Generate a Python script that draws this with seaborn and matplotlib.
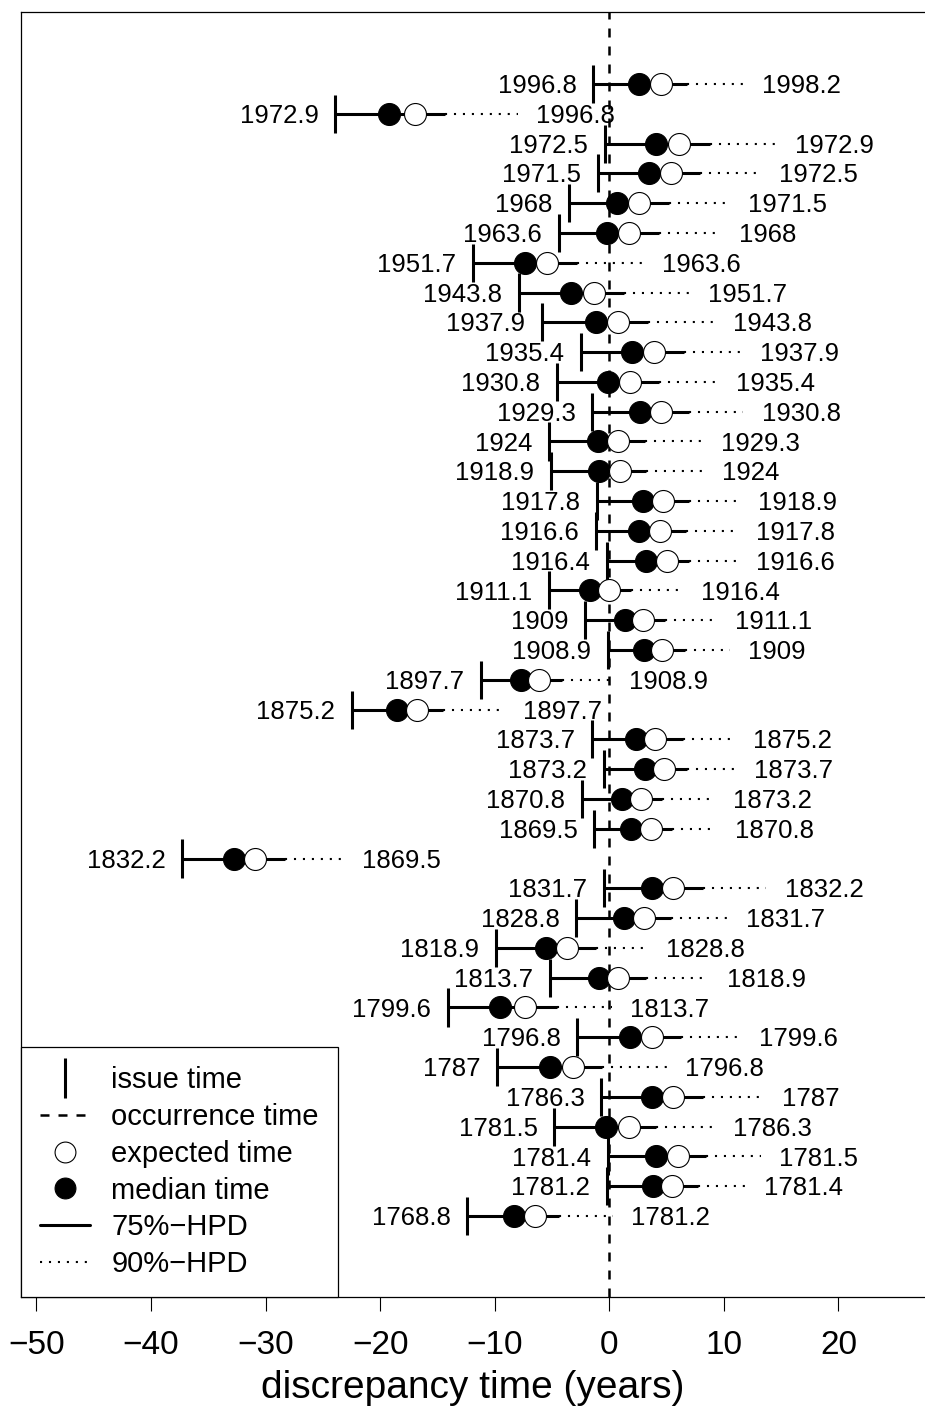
import matplotlib
matplotlib.use("Agg")
import matplotlib.pyplot as plt
from matplotlib.lines import Line2D
import seaborn as sns
import pandas as pd
import numpy as np

# ---------------- data ----------------
issue_labels = ["1996.8", "1972.9", "1972.5", "1971.5", "1968", "1963.6", "1951.7",
                "1943.8", "1937.9", "1935.4", "1930.8", "1929.3", "1924", "1918.9",
                "1917.8", "1916.6", "1916.4", "1911.1", "1909", "1908.9", "1897.7",
                "1875.2", "1873.7", "1873.2", "1870.8", "1869.5", "1832.2", "1831.7",
                "1828.8", "1818.9", "1813.7", "1799.6", "1796.8", "1787", "1786.3",
                "1781.5", "1781.4", "1781.2", "1768.8"]
occurrence_labels = ["1998.2", "1996.8", "1972.9", "1972.5", "1971.5", "1968", "1963.6",
                     "1951.7", "1943.8", "1937.9", "1935.4", "1930.8", "1929.3", "1924",
                     "1918.9", "1917.8", "1916.6", "1916.4", "1911.1", "1909", "1908.9",
                     "1897.7", "1875.2", "1873.7", "1873.2", "1870.8", "1869.5", "1832.2",
                     "1831.7", "1828.8", "1818.9", "1813.7", "1799.6", "1796.8", "1787",
                     "1786.3", "1781.5", "1781.4", "1781.2"]
median_disc = [2.6, -19.2, 4.1, 3.5, 0.7, -0.2, -7.4, -3.3, -1.2, 2.0, -0.1, 2.7, -1.0,
               -0.9, 2.9, 2.6, 3.2, -1.7, 1.4, 3.0, -7.7, -18.5, 2.3, 3.1, 1.1, 1.9,
               -32.8, 3.7, 1.3, -5.5, -0.9, -9.5, 1.8, -5.2, 3.7, -0.3, 4.1, 3.8, -8.3]
expected_disc = [4.5, -17.0, 6.1, 5.4, 2.6, 1.7, -5.4, -1.3, 0.8, 3.9, 1.8, 4.5, 0.8,
                 0.9, 4.7, 4.4, 5.0, 0.0, 2.9, 4.6, -6.1, -16.8, 4.0, 4.8, 2.8, 3.6,
                 -30.9, 5.6, 3.0, -3.7, 0.8, -7.4, 3.7, -3.2, 5.6, 1.7, 6.0, 5.5, -6.5]
hpd75_upper = [6.8, -14.3, 8.8, 7.9, 5.2, 4.3, -2.8, 1.3, 3.4, 6.5, 4.3, 7.0, 3.1,
               3.2, 7.0, 6.7, 7.0, 1.9, 4.9, 6.6, -4.1, -14.5, 6.4, 6.8, 4.6, 5.5,
               -28.3, 8.2, 5.4, -1.2, 3.2, -4.6, 6.3, -0.6, 8.2, 4.1, 8.4, 7.7, -4.4]
hpd90_upper = [11.7, -8.0, 14.6, 13.2, 10.5, 9.7, 3.0, 7.0, 9.2, 11.5, 9.4, 11.7, 8.1,
               8.2, 11.3, 11.2, 11.2, 6.4, 9.3, 10.5, 0.1, -9.2, 10.9, 11.0, 9.2, 9.3,
               -23.2, 13.7, 10.3, 3.3, 8.6, 0.2, 11.4, 5.0, 13.4, 9.2, 13.2, 11.9, 0.3]
x_ticks = [-50, -40, -30, -20, -10, 0, 10, 20]
x_label = "discrepancy time (years)"
legend_labels = ["issue time", "occurrence time", "expected time", "median time",
                 "75%\u2212HPD", "90%\u2212HPD"]

df = pd.DataFrame({
    "row": np.arange(len(issue_labels)),
    "issue": [float(a) - float(b) for a, b in zip(issue_labels, occurrence_labels)],
    "median": median_disc,
    "expected": expected_disc,
    "h75": hpd75_upper,
    "h90": hpd90_upper,
})

# ---------------- style ----------------
sns.set_theme(style="white")
plt.rcParams["font.family"] = ["Liberation Sans", "DejaVu Sans"]
plt.rcParams["axes.unicode_minus"] = True
for key in ["text.color", "axes.labelcolor", "xtick.color", "ytick.color",
            "axes.edgecolor"]:
    plt.rcParams[key] = "black"

W, H = 925, 1407
fig = plt.figure(figsize=(W / 100, H / 100), dpi=100)
ax_left, ax_right, ax_top, ax_bot = 21, 925, 12, 1297
ax = fig.add_axes([ax_left / W, (H - ax_bot) / H, (ax_right - ax_left) / W,
                   (ax_bot - ax_top) / H])

x0_px = 609.3
px_per_unit = 11.457
ax.set_xlim((ax_left - x0_px) / px_per_unit, (ax_right - x0_px) / px_per_unit)
row_px = 29.79
n = len(df)
ax.set_ylim((n - 1) + (ax_bot - 1216) / row_px, -(84 - ax_top) / row_px)

dash_style = (0, (3.6, 3.6))
dot_style = (0, (1.0, 3.3))

# occurrence line
ax.axvline(0, color="black", lw=1.8, linestyle=dash_style, zorder=2)

# 75% HPD solid
ax.hlines(df["row"], df["issue"], df["h75"], colors="black", lw=2.2, zorder=3)
# 90% HPD dotted
ax.hlines(df["row"], df["h75"], df["h90"], colors="black", lw=1.5,
          linestyles=[dot_style], zorder=3)
# issue bars
half = 0.64
ax.vlines(df["issue"], df["row"] - half, df["row"] + half, colors="black", lw=2.2,
          zorder=3)

# median and expected markers
sns.scatterplot(data=df, x="median", y="row", ax=ax, s=250, color="black",
                edgecolor="black", linewidth=0.8, zorder=4, legend=False)
sns.scatterplot(data=df, x="expected", y="row", ax=ax, s=250, color="white",
                edgecolor="black", linewidth=0.8, zorder=5, legend=False)

# labels
for r, xi, xe, lab_l, lab_r in zip(df["row"], df["issue"], df["h90"],
                                   issue_labels, occurrence_labels):
    ax.annotate(lab_l, (xi, r), xytext=(-12, -1.5), textcoords="offset points",
                ha="right", va="center", fontsize=18.5, color="black")
    ax.annotate(lab_r, (xe, r), xytext=(13.5, -1.5), textcoords="offset points",
                ha="left", va="center", fontsize=18.5, color="black")

# axes styling
ax.set_xticks(x_ticks)
ax.set_xticklabels([f"{t}".replace("-", "\u2212") for t in x_ticks])
ax.set_yticks([])
ax.tick_params(axis="x", direction="out", length=10, width=0.8, pad=14,
               labelsize=24, colors="black", bottom=True)
ax.set_xlabel(x_label, fontsize=28, labelpad=6, color="black")
ax.set_ylabel("")
for side in ["left", "top", "bottom"]:
    ax.spines[side].set_visible(True)
    ax.spines[side].set_color("black")
    ax.spines[side].set_linewidth(0.9)
ax.spines["right"].set_visible(False)
ax.grid(False)

# legend
handles = [
    Line2D([], [], color="black", marker="|", linestyle="none", markersize=29,
           markeredgewidth=2.2),
    Line2D([], [], color="black", lw=1.8, linestyle=(0, (3.6, 3.6))),
    Line2D([], [], marker="o", linestyle="none", markersize=15, markerfacecolor="white",
           markeredgecolor="black", markeredgewidth=0.8),
    Line2D([], [], marker="o", linestyle="none", markersize=15, markerfacecolor="black",
           markeredgecolor="black", markeredgewidth=0.8),
    Line2D([], [], color="black", lw=2.2),
    Line2D([], [], color="black", lw=1.5, linestyle=dot_style),
]
leg = ax.legend(handles, legend_labels, loc="lower left", bbox_to_anchor=(0, 0),
                borderaxespad=0, fontsize=21, frameon=True, fancybox=False,
                edgecolor="black", framealpha=1, borderpad=0.65, handlelength=1.7,
                handletextpad=0.75, labelspacing=0.3)
leg.get_frame().set_linewidth(0.9)
for t in leg.get_texts():
    t.set_color("black")

fig.savefig("out.png", dpi=100)
